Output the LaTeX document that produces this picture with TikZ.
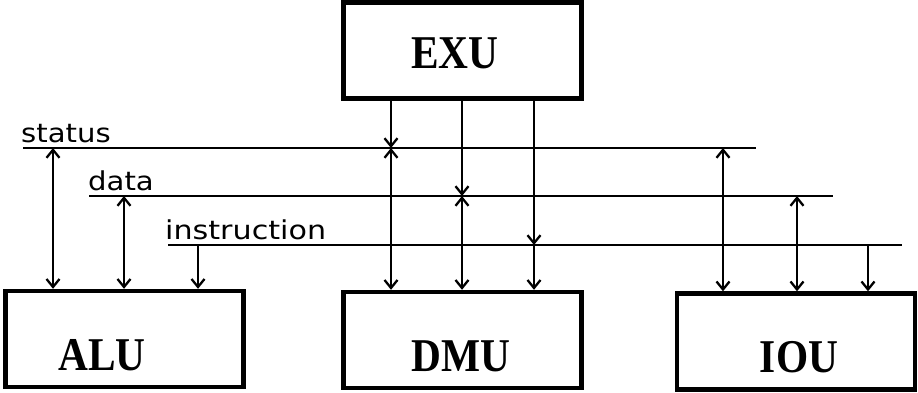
\documentclass[tikz,border=0pt]{standalone}
\usepackage{fontspec}
\usepackage{graphicx}
\setmainfont{Liberation Serif}
\newfontfamily\busfont{DejaVu Sans}
\usetikzlibrary{arrows.meta}
\begin{document}
\begin{tikzpicture}[x=1bp,y=-1bp,
  unitbox/.style={draw, line width=4.4bp, minimum width=238bp, minimum height=96bp, inner sep=0pt},
  unitname/.style={font=\fontsize{47bp}{47bp}\selectfont\bfseries, inner sep=0pt, anchor=base},
  busline/.style={line width=1.6bp},
  link/.style={line width=2.3bp},
  buslabel/.style={font=\busfont\fontsize{26bp}{26bp}\selectfont, inner sep=0pt, anchor=base west},
  >={Straight Barb[length=8bp,width=13bp]}]
\useasboundingbox (0,0) rectangle (918,392);

% functional units
\node[unitbox] (exu) at (462.5,50.5) {};
\node[unitbox] (alu) at (124.5,339) {};
\node[unitbox] (dmu) at (462.5,340) {};
\node[unitbox] (iou) at (796,341.5) {};
\node[unitname] (exuT) at (455,68) {\scalebox{0.88}[1]{EXU}};
\node[unitname] (aluT) at (102,370) {\scalebox{0.88}[1]{ALU}};
\node[unitname] (dmuT) at (461,371) {\scalebox{0.88}[1]{DMU}};
\node[unitname] (iouT) at (799,372) {\scalebox{0.88}[1]{IOU}};

% buses
\coordinate (stA) at (23,148);  \coordinate (stB) at (756,148);
\coordinate (daA) at (89,196);  \coordinate (daB) at (833,196);
\coordinate (inA) at (168,245); \coordinate (inB) at (902,245);
\draw[busline] (stA) -- (stB);
\draw[busline] (daA) -- (daB);
\draw[busline] (inA) -- (inB);
\node[buslabel] (stL) at (21,142) {\scalebox{1.12}[1]{status}};
\node[buslabel] (daL) at (88,190) {\scalebox{1.12}[1]{data}};
\node[buslabel] (inL) at (165,239) {\scalebox{1.16}[1]{instruction}};

% ALU taps
\coordinate (a1) at (53,148);
\coordinate (a2) at (124,196);
\coordinate (a3) at (198,245);
\draw[link,<->] (a1) -- (a1 |- alu.north);
\draw[link,<->] (a2) -- (a2 |- alu.north);
\draw[link,->] (a3) -- (a3 |- alu.north);

% IOU taps
\coordinate (i1) at (723,148);
\coordinate (i2) at (797,196);
\coordinate (i3) at (868,245);
\draw[link,<->] (i1) -- (i1 |- iou.north);
\draw[link,<->] (i2) -- (i2 |- iou.north);
\draw[link,->] (i3) -- (i3 |- iou.north);

% EXU to DMU through the buses
\coordinate (x1) at (391,148);
\coordinate (x2) at (462,196);
\coordinate (x3) at (534,245);
\draw[link,->] (x1 |- exu.south) -- (x1);
\draw[link,<->] (x1) -- (x1 |- dmu.north);
\draw[link,->] (x2 |- exu.south) -- (x2);
\draw[link,<->] (x2) -- (x2 |- dmu.north);
\draw[link,->] (x3 |- exu.south) -- (x3);
\draw[link,->] (x3) -- (x3 |- dmu.north);
\end{tikzpicture}
\end{document}
